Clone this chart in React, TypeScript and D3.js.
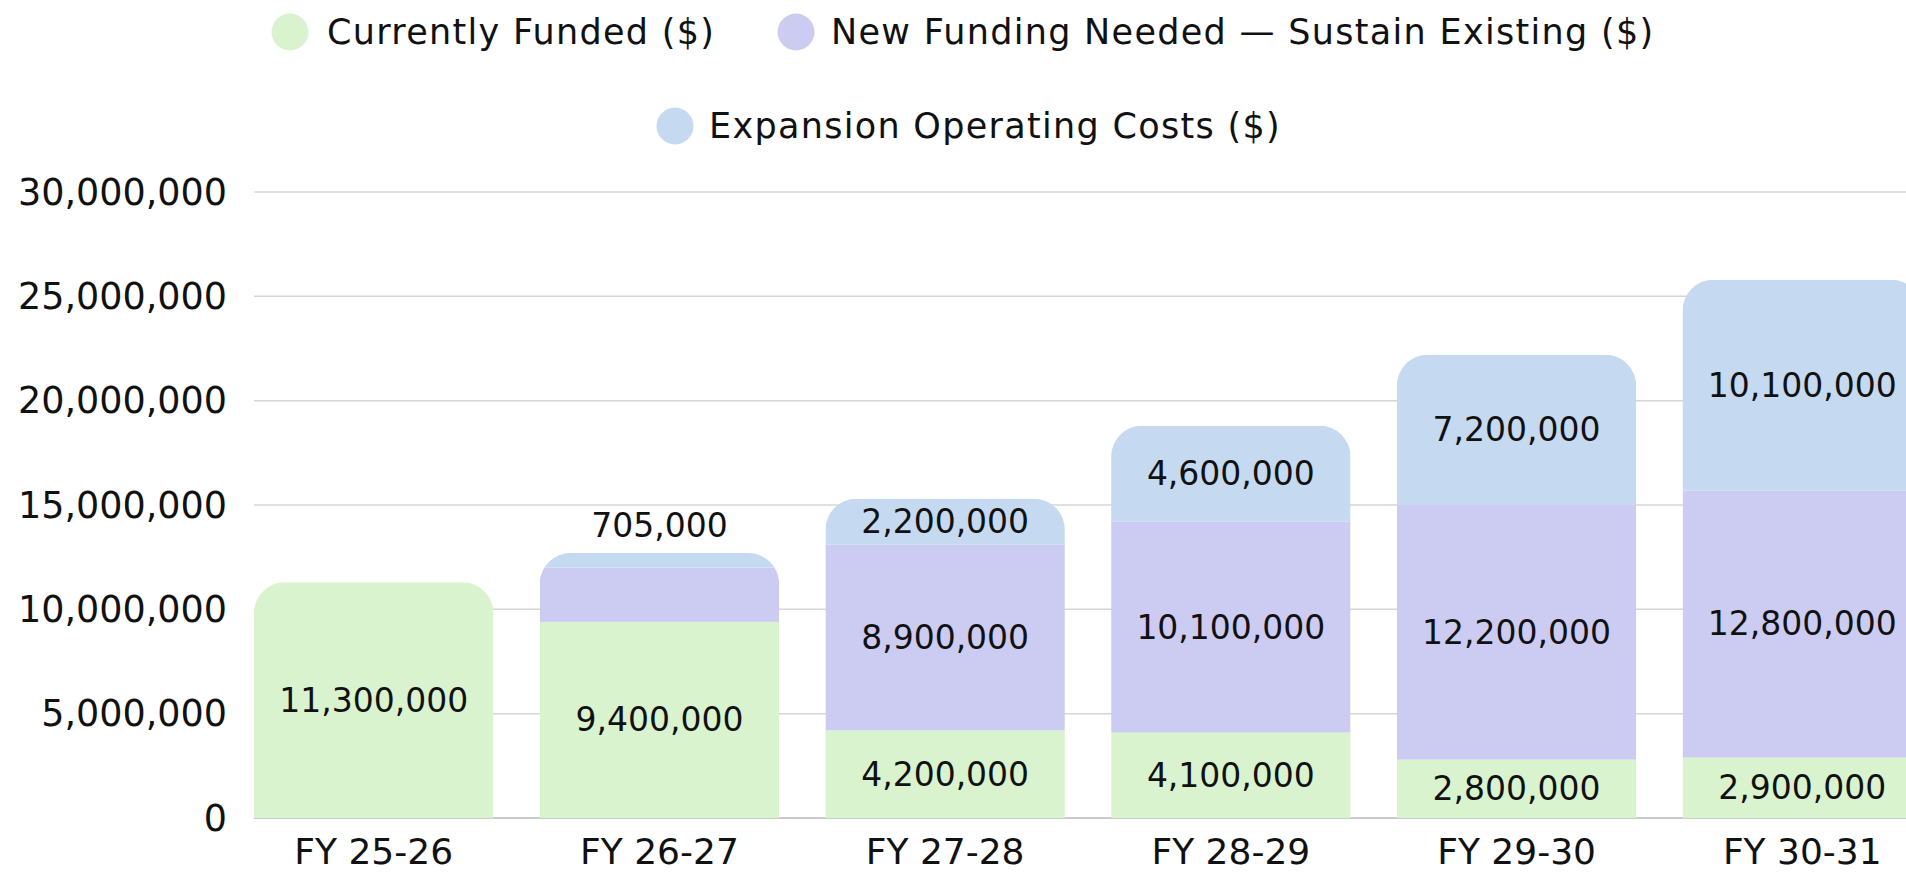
import React from "react";
import * as d3 from "d3";

const categories = ["FY 25-26", "FY 26-27", "FY 27-28", "FY 28-29", "FY 29-30", "FY 30-31"];
const currentlyFunded = [11300000, 9400000, 4200000, 4100000, 2800000, 2900000];
const newFundingSustain = [0, 2600000, 8900000, 10100000, 12200000, 12800000];
const expansionOperating = [0, 705000, 2200000, 4600000, 7200000, 10100000];
const yTicks = [0, 5000000, 10000000, 15000000, 20000000, 25000000, 30000000];
const seriesKeys = ["funded", "sustain", "expansion"];
const seriesNames = [
  "Currently Funded ($)",
  "New Funding Needed — Sustain Existing ($)",
  "Expansion Operating Costs ($)",
];
const seriesColors = ["#d9f3cf", "#cccbf1", "#c5d9f0"];
// labels that the original chart does not show
const hiddenLabels = [["FY 26-27", "sustain"]];

const W = 1906;
const H = 872;
const FONT = "'DejaVu Sans', sans-serif";

export default function App() {
  const rows = categories.map((c, i) => ({
    cat: c,
    funded: currentlyFunded[i],
    sustain: newFundingSustain[i],
    expansion: expansionOperating[i],
  }));
  const stack = d3.stack<any>().keys(seriesKeys);
  const stacked = stack(rows);

  const x = d3.scaleBand<string>().domain(categories).range([254, 1922]).paddingInner(0.162).paddingOuter(0);
  const y = d3.scaleLinear().domain([0, 30000000]).range([818, 192]);
  const fmt = d3.format(",");
  const r = 31;
  const bw = x.bandwidth();

  const clipPath = (cat: string, total: number) => {
    const x0 = x(cat)!;
    const x1 = x0 + bw;
    const yt = y(total);
    const yb = y(0);
    const p = d3.path();
    p.moveTo(x0, yb);
    p.lineTo(x0, yt + r);
    p.arcTo(x0, yt, x0 + r, yt, r);
    p.lineTo(x1 - r, yt);
    p.arcTo(x1, yt, x1, yt + r, r);
    p.lineTo(x1, yb);
    p.closePath();
    return p.toString();
  };

  const legendItems = [
    { i: 0, cx: 290, tx: 327, cy: 32 },
    { i: 1, cx: 796, tx: 831, cy: 32 },
    { i: 2, cx: 675, tx: 709, cy: 126 },
  ];

  return (
    <svg width={W} height={H} style={{ position: "absolute", left: 0, top: 0, background: "#fff" }} fontFamily={FONT}>
      <defs>
        {rows.map((row) => (
          <clipPath id={"clip-" + row.cat.replace(/\W/g, "")} key={row.cat}>
            <path d={clipPath(row.cat, row.funded + row.sustain + row.expansion)} />
          </clipPath>
        ))}
      </defs>
      {/* legend */}
      {legendItems.map((l) => (
        <g key={l.i}>
          <circle cx={l.cx} cy={l.cy} r={18.5} fill={seriesColors[l.i]} />
          <text x={l.tx} y={l.cy} dominantBaseline="central" fontSize={35} letterSpacing={1.3} fill="#111">
            {seriesNames[l.i]}
          </text>
        </g>
      ))}
      {/* grid */}
      {yTicks.map((t) => (
        <g key={t}>
          <line x1={254} x2={W} y1={y(t)} y2={y(t)} stroke={t === 0 ? "#b8b8b8" : "#d6d6d6"} strokeWidth={1.5} />
          <text x={227} y={y(t)} textAnchor="end" dominantBaseline="central" fontSize={36.5} fill="#111">
            {fmt(t)}
          </text>
        </g>
      ))}
      {/* bars */}
      {rows.map((row, ri) => (
        <g key={row.cat} clipPath={`url(#clip-${row.cat.replace(/\W/g, "")})`}>
          {stacked.map((s, si) =>
            s[ri][1] - s[ri][0] > 0 ? (
              <rect
                key={si}
                x={x(row.cat)}
                width={bw}
                y={y(s[ri][1])}
                height={y(s[ri][0]) - y(s[ri][1])}
                fill={seriesColors[si]}
              />
            ) : null
          )}
        </g>
      ))}
      {/* labels */}
      {rows.map((row, ri) =>
        stacked.map((s, si) => {
          const v = s[ri][1] - s[ri][0];
          if (v <= 0) return null;
          if (hiddenLabels.some((h) => h[0] === row.cat && h[1] === seriesKeys[si])) return null;
          const hpx = y(s[ri][0]) - y(s[ri][1]);
          const cx = x(row.cat)! + bw / 2;
          const cy = hpx < 30 ? y(s[ri][1]) - 27 : (y(s[ri][0]) + y(s[ri][1])) / 2;
          return (
            <text key={row.cat + si} x={cx} y={cy} textAnchor="middle" dominantBaseline="central" fontSize={33} fill="#111">
              {fmt(v)}
            </text>
          );
        })
      )}
      {/* x axis labels */}
      {categories.map((c) => (
        <text key={c} x={x(c)! + bw / 2} y={851} textAnchor="middle" dominantBaseline="central" fontSize={36} fill="#111">
          {c}
        </text>
      ))}
    </svg>
  );
}
